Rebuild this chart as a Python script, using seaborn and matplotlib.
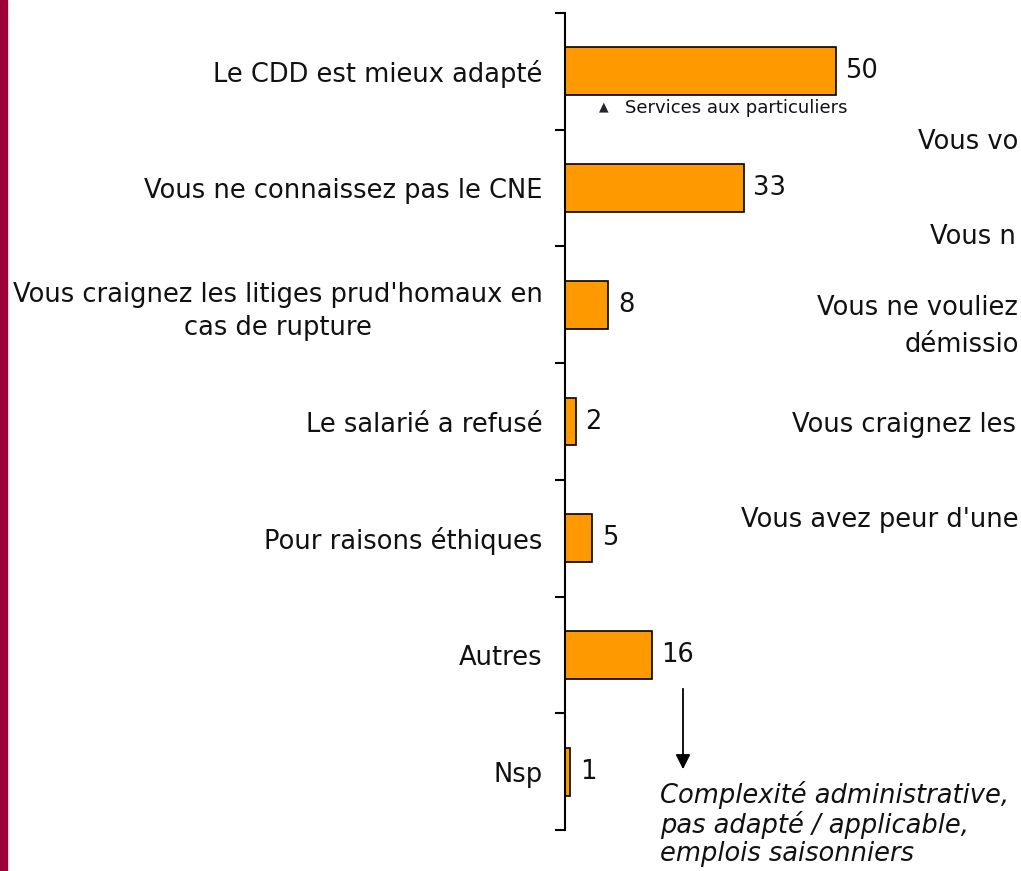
import matplotlib
matplotlib.use('Agg')
import matplotlib.pyplot as plt
import seaborn as sns
import numpy as np

categories = ['Le CDD est mieux adapté',
              'Vous ne connaissez pas le CNE',
              "Vous craignez les litiges prud'homaux en\ncas de rupture",
              'Le salarié a refusé',
              'Pour raisons éthiques',
              'Autres',
              'Nsp']
values = [50, 33, 8, 2, 5, 16, 1]

# fragments of the neighbouring panel, cut off by the right edge
side_texts = ['Vous vo', 'Vous n', 'Vous ne vouliez', 'démissio',
              'Vous craignez les', "Vous avez peur d'une"]
side_pos = [(918, 142), (930, 237), (817, 308), (905, 345), (792, 425), (741, 520)]

note_lines = 'Complexité administrative,\npas adapté / applicable,\nemplois saisonniers'

sns.set_style('white')
plt.rcParams['font.family'] = ['DejaVu Sans']

FS = 18.5
W, H = 1021, 871
fig = plt.figure(figsize=(W / 100, H / 100), dpi=100)
ax = fig.add_axes([565 / W, 1 - 830 / H, (W - 565) / W, (830 - 13) / H])

sns.barplot(x=values, y=categories, orient='h', color='#FF9900', saturation=1,
            edgecolor='black', linewidth=1.2, width=0.41, ax=ax)

ax.set_xlim(0, (W - 565) / 5.41)
ax.set_ylim(6.5, -0.5)
for s in ['top', 'right', 'bottom']:
    ax.spines[s].set_visible(False)
ax.spines['left'].set_linewidth(1.5)
ax.spines['left'].set_color('black')
ax.set_xticks([])
ax.set_xlabel('')
ax.set_ylabel('')

ax.set_yticks(range(len(categories)))
ax.set_yticklabels(categories, fontsize=FS, color='#111111')
ax.tick_params(axis='y', which='major', length=0, pad=16)
for lbl in ax.get_yticklabels():
    lbl.set_multialignment('center')
    lbl.set_linespacing(1.35)
ax.set_yticks(np.arange(-0.5, len(categories)), minor=True)
ax.tick_params(axis='y', which='minor', left=True, length=7, width=1.5,
               direction='out', color='black')

for i, v in enumerate(values):
    ax.annotate(str(v), xy=(v, i), xytext=(7, 0), textcoords='offset points',
                ha='left', va='center', fontsize=FS, color='#111111')

# small note under the first bar
fig.text(604 / W, 1 - 107 / H, '▲', fontsize=9, ha='center', va='center')
fig.text(625 / W, 1 - 108 / H, 'Services aux particuliers', fontsize=13,
         ha='left', va='center', color='#111111')

for t, (x, y) in zip(side_texts, side_pos):
    fig.text(x / W, 1 - y / H, t, fontsize=FS, ha='left', va='center', color='#111111')

# arrow from "Autres" to its details
fig.patches.append(matplotlib.patches.FancyArrowPatch(
    (683 / W, 1 - 686 / H), (683 / W, 1 - 772 / H), transform=fig.transFigure,
    arrowstyle='-|>', mutation_scale=22, color='black', lw=1.3))
fig.text(660 / W, 1 - 781 / H, note_lines, fontsize=FS, style='italic',
         ha='left', va='top', linespacing=1.1, color='#111111')

# maroon stripe on the left edge
fig.patches.append(matplotlib.patches.Rectangle((0, 0), 7 / W, 1, transform=fig.transFigure,
                                                color='#9B0038', zorder=0))

fig.savefig('out.png', dpi=100)
